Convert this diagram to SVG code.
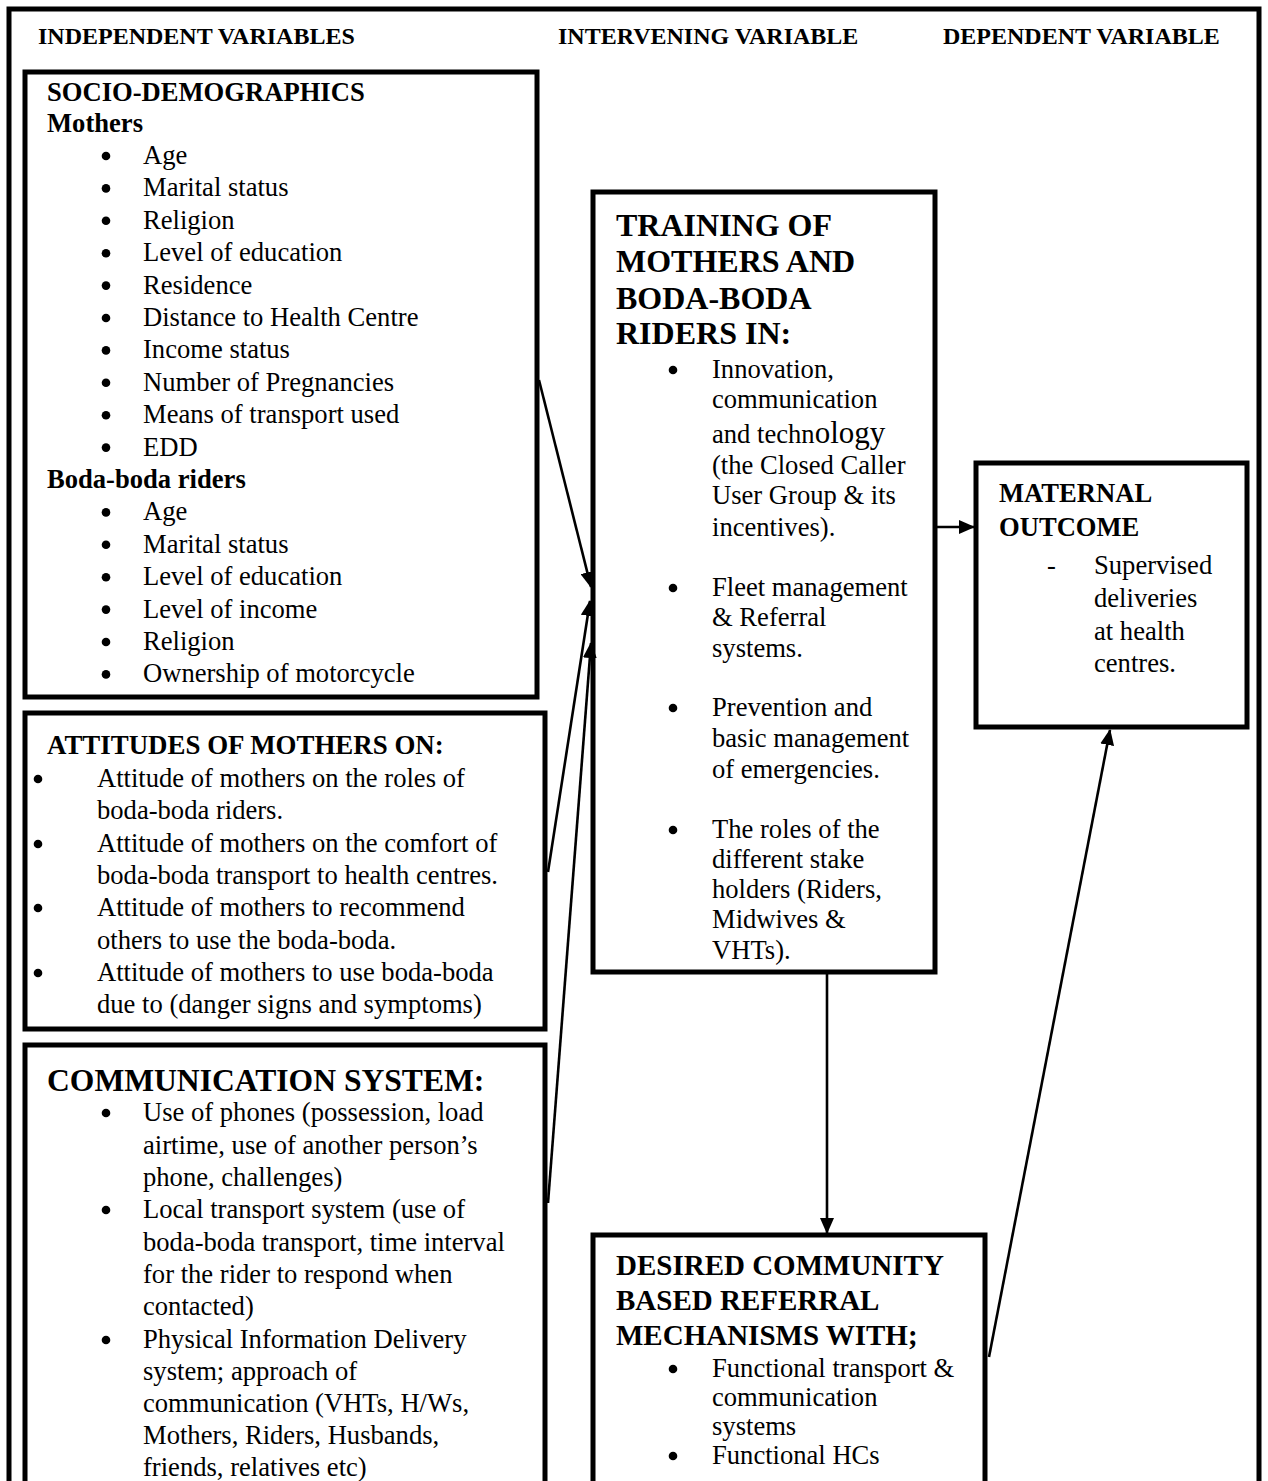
<svg xmlns="http://www.w3.org/2000/svg" width="1268" height="1481" viewBox="0 0 1268 1481" font-family="'Liberation Serif', Tinos, 'Times New Roman', Times, serif">
<style>
text, tspan { font-family: 'Liberation Serif', Tinos, 'Times New Roman', Times, serif; fill: #000; }
.hd { font-size: 24px; font-weight: bold; }
.b { font-size: 26.6px; font-weight: bold; }
.at { font-size: 26.9px; font-weight: bold; }
.t { font-size: 32px; font-weight: bold; }
.cs { font-size: 31.6px; font-weight: bold; }
.d { font-size: 29px; font-weight: bold; }
.r { font-size: 26.6px; }
.bu { fill: #000; }
.box { fill: #fff; stroke: #000; stroke-width: 5; }
.con { stroke: #000; stroke-width: 2.6; fill: none; marker-end: url(#ah); }
</style>
<defs>
<marker id="ah" viewBox="0 0 16 14" refX="15" refY="7" markerWidth="16" markerHeight="14" markerUnits="userSpaceOnUse" orient="auto">
<path d="M0,0 L16,7 L0,14 Z" fill="#000"/>
</marker>
</defs>
<rect x="0" y="0" width="1268" height="1481" fill="#fff"/>
<g id="frame">
<path d="M9,1490 L9,9 L1259,9 L1259,1490" fill="none" stroke="#000" stroke-width="5"/>
</g>
<g id="headers">
<text class="hd" x="38" y="44">INDEPENDENT VARIABLES</text>
<text class="hd" x="558" y="44">INTERVENING VARIABLE</text>
<text class="hd" x="943" y="44">DEPENDENT VARIABLE</text>
</g>
<g id="socio">
<rect class="box" x="25" y="72" width="512" height="625"/>
<text class="b" x="47" y="101">SOCIO-DEMOGRAPHICS</text>
<text class="b" x="47" y="132">Mothers</text>
<g class="bu">
<circle cx="106" cy="156" r="4.3"/><circle cx="106" cy="188.4" r="4.3"/><circle cx="106" cy="220.8" r="4.3"/>
<circle cx="106" cy="253.2" r="4.3"/><circle cx="106" cy="285.6" r="4.3"/><circle cx="106" cy="318" r="4.3"/>
<circle cx="106" cy="350.4" r="4.3"/><circle cx="106" cy="382.8" r="4.3"/><circle cx="106" cy="415.2" r="4.3"/>
<circle cx="106" cy="447.6" r="4.3"/>
<circle cx="106" cy="512.4" r="4.3"/><circle cx="106" cy="544.8" r="4.3"/><circle cx="106" cy="577.2" r="4.3"/>
<circle cx="106" cy="609.6" r="4.3"/><circle cx="106" cy="642" r="4.3"/><circle cx="106" cy="674.4" r="4.3"/>
</g>
<text class="r" x="143" y="164">Age</text>
<text class="r" x="143" y="196.4">Marital status</text>
<text class="r" x="143" y="228.8">Religion</text>
<text class="r" x="143" y="261.2">Level of education</text>
<text class="r" x="143" y="293.6">Residence</text>
<text class="r" x="143" y="326">Distance to Health Centre</text>
<text class="r" x="143" y="358.4">Income status</text>
<text class="r" x="143" y="390.8">Number of Pregnancies</text>
<text class="r" x="143" y="423.2">Means of transport used</text>
<text class="r" x="143" y="455.6">EDD</text>
<text class="b" x="47" y="488">Boda-boda riders</text>
<text class="r" x="143" y="520.4">Age</text>
<text class="r" x="143" y="552.8">Marital status</text>
<text class="r" x="143" y="585.2">Level of education</text>
<text class="r" x="143" y="617.6">Level of income</text>
<text class="r" x="143" y="650">Religion</text>
<text class="r" x="143" y="682.4">Ownership of motorcycle</text>
</g>
<g id="attitudes">
<rect class="box" x="25" y="713" width="520" height="316"/>
<text class="at" x="47" y="754">ATTITUDES OF MOTHERS ON:</text>
<g class="bu">
<circle cx="38" cy="779" r="4.3"/><circle cx="38" cy="844" r="4.3"/>
<circle cx="38" cy="908" r="4.3"/><circle cx="38" cy="973" r="4.3"/>
</g>
<text class="r" x="97" y="787">Attitude of mothers on the roles of</text>
<text class="r" x="97" y="819">boda-boda riders.</text>
<text class="r" x="97" y="852">Attitude of mothers on the comfort of</text>
<text class="r" x="97" y="884">boda-boda transport to health centres.</text>
<text class="r" x="97" y="916">Attitude of mothers to recommend</text>
<text class="r" x="97" y="949">others to use the boda-boda.</text>
<text class="r" x="97" y="981">Attitude of mothers to use boda-boda</text>
<text class="r" x="97" y="1013">due to (danger signs and symptoms)</text>
</g>
<g id="communication">
<rect class="box" x="25" y="1045" width="520" height="450"/>
<text class="cs" x="47" y="1091">COMMUNICATION SYSTEM:</text>
<g class="bu">
<circle cx="106" cy="1113" r="4.3"/><circle cx="106" cy="1210" r="4.3"/><circle cx="106" cy="1340" r="4.3"/>
</g>
<text class="r" x="143" y="1121">Use of phones (possession, load</text>
<text class="r" x="143" y="1154">airtime, use of another person’s</text>
<text class="r" x="143" y="1186">phone, challenges)</text>
<text class="r" x="143" y="1218">Local transport system (use of</text>
<text class="r" x="143" y="1251">boda-boda transport, time interval</text>
<text class="r" x="143" y="1283">for the rider to respond when</text>
<text class="r" x="143" y="1315">contacted)</text>
<text class="r" x="143" y="1348">Physical Information Delivery</text>
<text class="r" x="143" y="1380">system; approach of</text>
<text class="r" x="143" y="1412">communication (VHTs, H/Ws,</text>
<text class="r" x="143" y="1444">Mothers, Riders, Husbands,</text>
<text class="r" x="143" y="1476">friends, relatives etc)</text>
</g>
<g id="training">
<rect class="box" x="593" y="192" width="342" height="780"/>
<text class="t" x="616" y="236">TRAINING OF</text>
<text class="t" x="616" y="272">MOTHERS AND</text>
<text class="t" x="616" y="309">BODA-BODA</text>
<text class="t" x="616" y="344">RIDERS IN:</text>
<g class="bu">
<circle cx="673" cy="370" r="4.3"/><circle cx="673" cy="588" r="4.3"/>
<circle cx="673" cy="708" r="4.3"/><circle cx="673" cy="830" r="4.3"/>
</g>
<text class="r" x="712" y="378">Innovation,</text>
<text class="r" x="712" y="408">communication</text>
<text class="r" x="712" y="443">and techn<tspan style="font-size:31px">ology</tspan></text>
<text class="r" x="712" y="474">(the Closed Caller</text>
<text class="r" x="712" y="504">User Group &amp; its</text>
<text class="r" x="712" y="536">incentives).</text>
<text class="r" x="712" y="596">Fleet management</text>
<text class="r" x="712" y="626">&amp; Referral</text>
<text class="r" x="712" y="657">systems.</text>
<text class="r" x="712" y="716">Prevention and</text>
<text class="r" x="712" y="747">basic management</text>
<text class="r" x="712" y="778">of emergencies.</text>
<text class="r" x="712" y="838">The roles of the</text>
<text class="r" x="712" y="868">different stake</text>
<text class="r" x="712" y="898">holders (Riders,</text>
<text class="r" x="712" y="928">Midwives &amp;</text>
<text class="r" x="712" y="959">VHTs).</text>
</g>
<g id="maternal">
<rect class="box" x="976" y="463" width="271" height="264"/>
<text class="b" x="999" y="502">MATERNAL</text>
<text class="b" x="999" y="536">OUTCOME</text>
<text class="r" x="1047" y="574">-</text>
<text class="r" x="1094" y="574">Supervised</text>
<text class="r" x="1094" y="607">deliveries</text>
<text class="r" x="1094" y="640">at health</text>
<text class="r" x="1094" y="672">centres.</text>
</g>
<g id="desired">
<rect class="box" x="593" y="1235" width="392" height="260"/>
<text class="d" x="616" y="1275">DESIRED COMMUNITY</text>
<text class="d" x="616" y="1310">BASED REFERRAL</text>
<text class="d" x="616" y="1345">MECHANISMS WITH;</text>
<g class="bu">
<circle cx="673" cy="1369" r="4.3"/><circle cx="673" cy="1456" r="4.3"/>
</g>
<text class="r" x="712" y="1377">Functional transport &amp;</text>
<text class="r" x="712" y="1406">communication</text>
<text class="r" x="712" y="1435">systems</text>
<text class="r" x="712" y="1464">Functional HCs</text>
</g>
<g id="connectors">
<line class="con" x1="539" y1="380" x2="591" y2="587"/>
<line class="con" x1="548" y1="872" x2="590" y2="601"/>
<line class="con" x1="548" y1="1203" x2="591" y2="643"/>
<line class="con" x1="937" y1="527" x2="974" y2="527"/>
<line class="con" x1="827" y1="973" x2="827" y2="1233"/>
<line class="con" x1="989" y1="1357" x2="1110" y2="730"/>
</g>
</svg>
